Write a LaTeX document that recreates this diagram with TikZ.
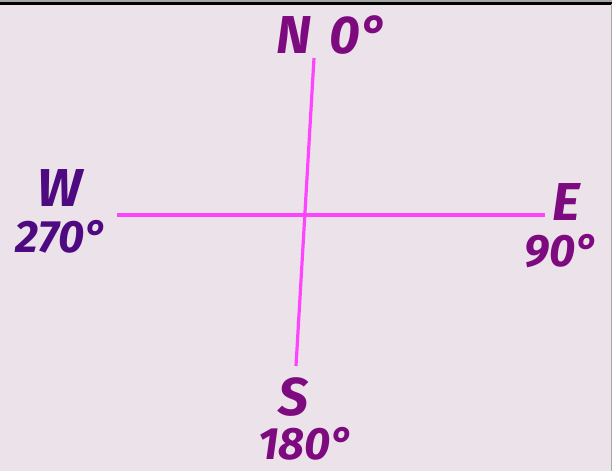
\documentclass[tikz,border=0pt]{standalone}
\usepackage{fontspec}
\setmainfont{Fira Sans}
\usepackage{xcolor,tikz}
\usetikzlibrary{positioning}
\definecolor{paper}{HTML}{ECE2EA}
\definecolor{plum}{HTML}{7E0A80}
\definecolor{indigo}{HTML}{4E0A80}
\definecolor{pink}{HTML}{FF44FF}
\tikzset{axis/.style={pink,line width=2.4pt},
hand/.style={font=\fontsize{40}{40}\selectfont\bfseries\itshape,text=plum,inner sep=0pt},
deg/.style={font=\fontsize{34}{34}\selectfont\bfseries\itshape,text=plum,inner sep=0pt}}

\begin{document}
\begin{tikzpicture}[x=.75pt,y=-.75pt]
\useasboundingbox (0,0) rectangle (612,471);
\fill[paper] (0,0) rectangle (612,471);
\fill[gray!70] (0,0) rectangle (612,2);
\fill[black] (0,2) rectangle (612,4.5);
\draw[gray!70,line width=.75pt] (611,4) -- (611,471);
% the cross
\coordinate (n) at (314,58);
\coordinate (s) at (296,366);
\coordinate (w) at (117,215);
\coordinate (e) at (545,215);
\draw[axis] (n) -- (s);
\draw[axis] (w) -- (e);
% labels
\node[hand] (nlab) at (332,35) {N\hspace{.35em}0°};
\node[hand,text=indigo] (wlab) at (60,188) {W};
\node[deg,text=indigo] (wdeg) at (62,237) {270°};
\node[hand] (elab) at (566,202) {E};
\node[deg] (edeg) at (562,251) {90°};
\node[hand] (slab) at (293,397) {S};
\node[deg] (sdeg) at (306,444) {180°};
\end{tikzpicture}
\end{document}
